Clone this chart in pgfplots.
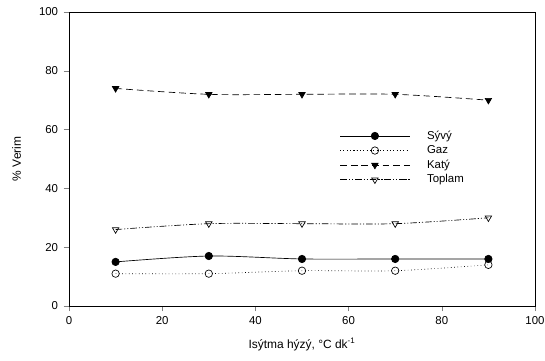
\documentclass[border=0pt]{standalone}
\usepackage{fontspec}
\setmainfont{Liberation Sans}
\usepackage{pgfplots}
\pgfplotsset{compat=1.18}
\begin{document}
\begin{tikzpicture}
\begin{axis}[
  name=ax,
  scale only axis,
  width=349.5bp, height=220.5bp,
  xmin=0, xmax=100, ymin=0, ymax=100,
  xtick={0,20,...,100}, ytick={0,20,...,100},
  tick align=outside, tick pos=left,
  major tick length=4bp,
  axis line style={line width=0.6pt},
  /pgf/number format/assume math mode=true,
  tick label style={font=\fontsize{8.6}{10}\selectfont, inner sep=1pt},
  xticklabel style={yshift=-2.5bp},
  yticklabel style={xshift=-3bp},
  label style={font=\fontsize{9}{10}\selectfont},
  xlabel={Isýtma hýzý, °C dk\textsuperscript{-1}},
  ylabel={\% Verim},
  xlabel style={yshift=-6bp},
  ylabel style={yshift=9bp},
  legend cell align=left,
  legend style={draw=none, fill=none, at={(rel axis cs:0.572,0.615)}, anchor=north west,
    font=\fontsize{8.6}{10}\selectfont, row sep=-0.7pt,
    nodes={inner sep=2pt}},
  legend image code/.code={\draw[mark repeat=2,mark phase=2] plot coordinates {(0cm,0cm) (0.92cm,0cm) (1.84cm,0cm)};},
  every axis plot/.append style={line width=0.5pt, mark size=2.8pt, smooth},
]
\addplot[black, solid, mark=*, mark options={solid,fill=black}] coordinates {(10,15) (30,17) (50,16) (70,16) (90,16)};
\addlegendentry{\hspace{0.38cm}Sývý}
\addplot[black, dotted, mark=o, mark options={solid}] coordinates {(10,11) (30,11) (50,12) (70,12) (90,14)};
\addlegendentry{\hspace{0.38cm}Gaz}
\addplot[black, dash pattern=on 5pt off 3pt, mark=triangle*, mark options={solid,fill=black,rotate=180}] coordinates {(10,74) (30,72) (50,72) (70,72) (90,70)};
\addlegendentry{\hspace{0.38cm}Katý}
\addplot[black, dash pattern=on 5pt off 1.5pt on 0.8pt off 1.5pt on 0.8pt off 1.5pt, mark=triangle, mark options={solid,fill=white,rotate=180}] coordinates {(10,26) (30,28) (50,28) (70,28) (90,30)};
\addlegendentry{\hspace{0.38cm}Toplam}
\end{axis}
\pgfresetboundingbox
\path ([xshift=-51.75bp,yshift=-41.25bp]ax.south west) rectangle ([xshift=7.5bp,yshift=9bp]ax.north east);
\end{tikzpicture}
\end{document}
